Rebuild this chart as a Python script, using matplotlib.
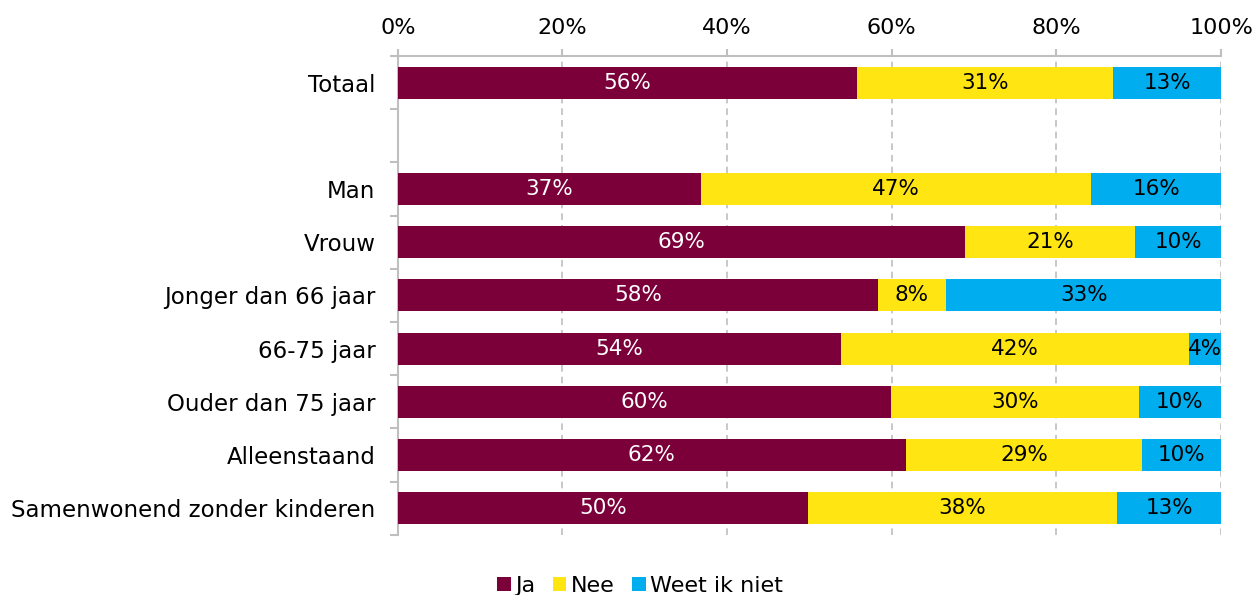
import numpy as np
import matplotlib.pyplot as plt

categories = ["Totaal", "", "Man", "Vrouw", "Jonger dan 66 jaar", "66-75 jaar",
              "Ouder dan 75 jaar", "Alleenstaand", "Samenwonend zonder kinderen"]
ja = [55.8, 0, 36.8, 68.9, 58.3, 53.8, 59.9, 61.7, 49.8]
nee = [31.1, 0, 47.4, 20.7, 8.3, 42.3, 30.1, 28.7, 37.6]
weet = [13.1, 0, 15.8, 10.4, 33.4, 3.9, 10.0, 9.6, 12.6]
series = ["Ja", "Nee", "Weet ik niet"]
colors = ["#7B003A", "#FFE512", "#00AEEF"]
text_colors = ["white", "black", "black"]

plt.rcParams["font.family"] = "DejaVu Sans"

fig = plt.figure(figsize=(12.55, 5.95), dpi=100)
ax = fig.add_axes([0.317, 0.101, 0.656, 0.805])

y = np.arange(len(categories))
left = np.zeros(len(categories))
for vals, name, col, tc in zip([ja, nee, weet], series, colors, text_colors):
    vals = np.array(vals)
    ax.barh(y, vals, left=left, height=0.6, color=col, label=name, zorder=3)
    for yi, (l, v) in enumerate(zip(left, vals)):
        if v > 0:
            ax.text(l + v / 2, yi, f"{v:.0f}%", ha="center", va="center",
                    color=tc, fontsize=15.5, zorder=4)
    left += vals

ax.set_xlim(0, 100)
ax.set_ylim(len(categories) - 0.5, -0.5)
ax.set_yticks(y)
ax.set_yticklabels(categories, fontsize=16.5)
ax.set_yticks(np.arange(-0.5, len(categories), 1), minor=True)
ax.tick_params(axis="y", which="major", length=0, pad=16)
ax.tick_params(axis="y", which="minor", length=6, color="#BFBFBF", width=1.5)

ax.xaxis.tick_top()
ax.set_xticks(np.arange(0, 101, 20))
ax.set_xticklabels([f"{t}%" for t in range(0, 101, 20)], fontsize=16)
ax.tick_params(axis="x", length=5, color="#BFBFBF", width=1.5, pad=8)
ax.grid(axis="x", color="#BFBFBF", linestyle=(0, (4, 3)), linewidth=1.2, zorder=0)

for s in ["right", "bottom"]:
    ax.spines[s].set_visible(False)
for s in ["left", "top"]:
    ax.spines[s].set_color("#BFBFBF")
    ax.spines[s].set_linewidth(1.5)

fig.legend(loc="lower center", bbox_to_anchor=(0.51, -0.035), ncol=3, frameon=False,
           fontsize=16, handlelength=0.6, handleheight=0.6, handletextpad=0.2,
           columnspacing=0.8)

fig.savefig("out.png", dpi=100)
